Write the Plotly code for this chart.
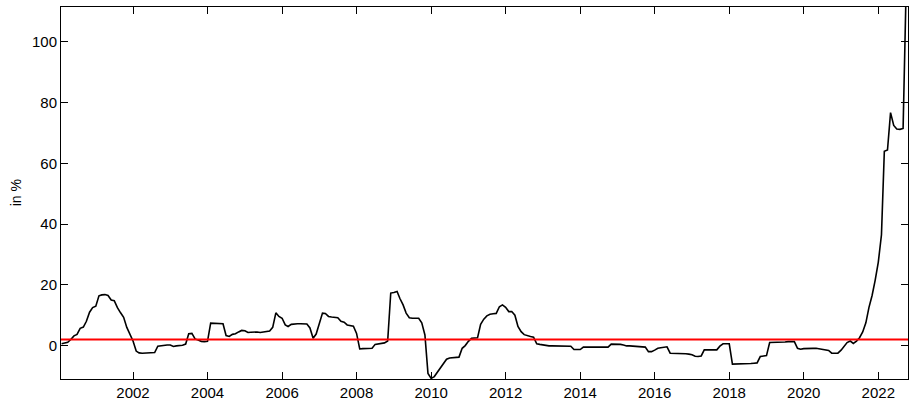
import pandas as pd
import plotly.graph_objects as go

# Monthly observations, Feb 2000 - Oct 2022
months = pd.date_range("2000-02-01", "2022-10-01", freq="MS")

rate = [
    # 2000 (Feb-Dec)
    0.6, 0.8, 1.1, 2.0, 3.2, 3.7, 5.7, 6.1, 8.0, 11.0, 12.5,
    # 2001
    13.0, 16.4, 16.7, 16.8, 16.5, 15.0, 14.8, 12.5, 10.8, 9.3, 6.0, 3.6,
    # 2002
    1.5, -1.8, -2.4, -2.5, -2.5, -2.5, -2.5, -2.3, -0.2, 0.0, 0.2, 0.2,
    # 2003
    0.2, -0.3, -0.1, 0.0, 0.1, 0.5, 3.9, 4.0, 2.2, 1.8, 1.4, 1.3,
    # 2004
    1.4, 7.4, 7.4, 7.3, 7.3, 7.2, 3.3, 3.0, 3.7, 3.9, 4.5, 5.0,
    # 2005
    4.9, 4.3, 4.4, 4.5, 4.5, 4.3, 4.4, 4.5, 4.8, 6.0, 10.8, 9.6,
    # 2006
    9.0, 6.8, 6.3, 7.0, 7.2, 7.2, 7.2, 7.2, 7.1, 5.8, 2.4, 3.8,
    # 2007
    7.5, 10.7, 10.6, 9.6, 9.4, 9.4, 9.2, 8.0, 7.7, 6.8, 6.6, 6.4,
    # 2008
    4.0, -1.1, -1.0, -1.0, -1.0, -0.9, 0.4, 0.5, 0.6, 0.9, 1.5, 17.3,
    # 2009
    17.5, 17.8, 15.5, 13.4, 10.7, 9.2, 9.0, 9.0, 9.0, 7.5, 3.5, -9.2,
    # 2010
    -10.8, -10.2, -8.8, -7.3, -5.7, -4.5, -4.1, -4.0, -4.0, -3.8, -0.9, 0.0,
    # 2011
    1.4, 2.4, 2.5, 2.6, 7.0, 8.7, 9.8, 10.3, 10.5, 10.6, 12.8, 13.4,
    # 2012
    12.6, 11.2, 11.2, 10.0, 6.3, 4.6, 3.6, 3.2, 3.0, 2.8, 0.6, 0.4,
    # 2013
    0.2, -0.1, -0.1, -0.1, -0.1, -0.1, -0.1, -0.1, -0.1, -0.2, -1.3, -1.4,
    # 2014
    -1.3, -0.5, -0.5, -0.5, -0.5, -0.5, -0.5, -0.5, -0.5, -0.5, 0.5, 0.5,
    # 2015
    0.5, 0.4, 0.2, -0.1, -0.1, -0.2, -0.3, -0.3, -0.3, -0.5, -2.0, -2.0,
    # 2016
    -1.5, -0.9, -0.7, -0.6, -0.4, -2.5, -2.5, -2.5, -2.5, -2.6, -2.7, -2.8,
    # 2017
    -3.0, -3.5, -3.6, -3.4, -1.4, -1.4, -1.4, -1.4, -1.4, -0.2, 0.6, 0.6,
    # 2018
    0.6, -6.1, -6.1, -6.1, -6.0, -6.0, -5.9, -5.9, -5.8, -5.7, -3.6, -3.4,
    # 2019
    -3.3, 1.0, 1.0, 1.0, 1.0, 1.2, 1.2, 1.3, 1.3, 1.3, -0.9, -1.2,
    # 2020
    -1.0, -0.9, -0.9, -0.9, -0.9, -1.1, -1.2, -1.4, -1.6, -2.5, -2.5, -2.5,
    # 2021
    -1.5, 0.0, 1.0, 1.5, 0.7, 1.5, 2.6, 4.5, 7.5, 12.5, 16.5, 21.5,
    # 2022 (Jan-Oct)
    27.5, 36.5, 64.0, 64.4, 76.7, 72.5, 71.3, 71.2, 71.5, 118.0,
]

target = 2.0
year_ticks = [2002, 2004, 2006, 2008, 2010, 2012, 2014, 2016, 2018, 2020, 2022]
y_ticks = [0, 20, 40, 60, 80, 100]

FONT = "Liberation Sans, Arial, Helvetica, sans-serif"

fig = go.Figure()
fig.add_trace(go.Scatter(
    x=months, y=rate, mode="lines",
    line=dict(color="black", width=1.6),
    showlegend=False, hoverinfo="x+y",
))
fig.add_hline(y=target, line=dict(color="#ff0000", width=1.8), layer="above")

axis_style = dict(
    showgrid=False, zeroline=False,
    showline=True, linecolor="black", linewidth=1, mirror="ticks",
    ticks="inside", ticklen=7, tickwidth=1, tickcolor="black",
    tickfont=dict(family=FONT, size=15, color="black"),
)

fig.update_xaxes(
    type="date",
    range=["2000-01-26", "2022-10-19"],
    tickvals=[f"{y}-01-01" for y in year_ticks],
    ticktext=[str(y) for y in year_ticks],
    **axis_style,
)
fig.update_yaxes(
    range=[-11, 111.5],
    tickvals=y_ticks,
    ticktext=[str(v) for v in y_ticks],
    **axis_style,
)

fig.add_annotation(
    text="in %", xref="paper", yref="paper",
    x=-0.0528, y=0.5, xanchor="center", yanchor="middle",
    textangle=-90, showarrow=False,
    font=dict(family=FONT, size=14, color="black"),
)

fig.update_layout(
    width=909, height=401,
    margin=dict(l=61, r=1, t=7, b=22),
    paper_bgcolor="white", plot_bgcolor="white",
    font=dict(family=FONT, color="black"),
)

fig.write_html("out.html")
